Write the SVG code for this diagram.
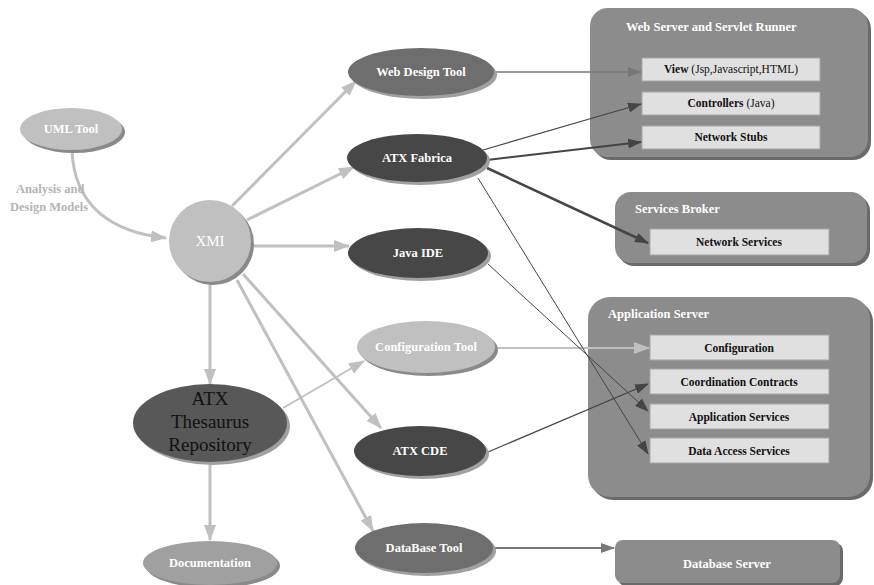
<svg xmlns="http://www.w3.org/2000/svg" width="874" height="585" viewBox="0 0 874 585">
<style>
text{font-family:"Liberation Serif",Tinos,"Times New Roman","DejaVu Serif",serif;font-weight:bold}
text.n{font-weight:normal}
.w{fill:#ffffff}
.b{fill:#111111}
.t{font-size:12.5px}
.s{font-size:11.5px}
.box{fill:#e0e0e0;stroke:#a6a6a6;stroke-width:1}
.cont{fill:#8c8c8c}
.cshadow{fill:#6a6a6a}
.lite{stroke:#c0c0c0;stroke-width:3;fill:none}
.lite2{stroke:#c0c0c0;stroke-width:2;fill:none}
.dark{stroke:#454545;fill:none}
.mid{stroke:#777777;fill:none}
</style>
<defs>
<marker id="aL" markerUnits="userSpaceOnUse" markerWidth="16" markerHeight="12" refX="15" refY="6" orient="auto"><path d="M0,0 L16,6 L0,12 z" fill="#c0c0c0"/></marker>
<marker id="aD" markerUnits="userSpaceOnUse" markerWidth="14" markerHeight="10" refX="13" refY="5" orient="auto"><path d="M0,0 L14,5 L0,10 z" fill="#454545"/></marker>
<marker id="aM" markerUnits="userSpaceOnUse" markerWidth="14" markerHeight="10" refX="13" refY="5" orient="auto"><path d="M0,0 L14,5 L0,10 z" fill="#777777"/></marker>
</defs>

<g id="web-server">
<rect class="cshadow" x="593" y="11" width="278" height="149" rx="18"/>
<rect class="cont" x="590" y="8" width="278" height="149" rx="18"/>
<text class="w t" x="626" y="31">Web Server and Servlet Runner</text>
<rect class="box" x="642" y="58" width="178" height="23"/>
<text class="b s" x="731" y="73" text-anchor="middle">View <tspan font-weight="normal">(Jsp,Javascript,HTML)</tspan></text>
<rect class="box" x="642" y="92" width="178" height="23"/>
<text class="b s" x="731" y="107" text-anchor="middle">Controllers <tspan font-weight="normal">(Java)</tspan></text>
<rect class="box" x="642" y="126" width="178" height="23"/>
<text class="b s" x="731" y="141" text-anchor="middle">Network Stubs</text>
</g>

<g id="services-broker">
<rect class="cshadow" x="618" y="195" width="252" height="71" rx="16"/>
<rect class="cont" x="615" y="192" width="252" height="71" rx="16"/>
<text class="w t" x="635" y="213">Services Broker</text>
<rect class="box" x="650" y="229" width="179" height="26"/>
<text class="b s" x="739" y="246" text-anchor="middle">Network Services</text>
</g>

<g id="application-server">
<rect class="cshadow" x="591" y="300" width="282" height="200" rx="22"/>
<rect class="cont" x="588" y="297" width="282" height="200" rx="22"/>
<text class="w t" x="608" y="318">Application Server</text>
<rect class="box" x="650" y="335" width="179" height="25"/>
<text class="b s" x="739" y="352" text-anchor="middle">Configuration</text>
<rect class="box" x="650" y="369" width="179" height="25"/>
<text class="b s" x="739" y="386" text-anchor="middle">Coordination Contracts</text>
<rect class="box" x="650" y="404" width="179" height="25"/>
<text class="b s" x="739" y="421" text-anchor="middle">Application Services</text>
<rect class="box" x="650" y="438" width="179" height="25"/>
<text class="b s" x="739" y="455" text-anchor="middle">Data Access Services</text>
</g>

<g id="database-server">
<rect class="cshadow" x="618" y="543" width="225" height="43" rx="8"/>
<rect class="cont" x="615" y="540" width="225" height="43" rx="8"/>
<text class="w t" x="727" y="568" text-anchor="middle">Database Server</text>
</g>

<g id="connectors">
<path class="lite" d="M72,150 C74,205 110,232 166,238" marker-end="url(#aL)"/>
<line class="lite" x1="232" y1="206" x2="356" y2="81" marker-end="url(#aL)"/>
<line class="lite" x1="247" y1="220" x2="354" y2="167" marker-end="url(#aL)"/>
<line class="lite" x1="253" y1="246" x2="349" y2="246" marker-end="url(#aL)"/>
<line class="lite" x1="210" y1="283" x2="210" y2="384" marker-end="url(#aL)"/>
<line class="lite" x1="243" y1="274" x2="381" y2="428" marker-end="url(#aL)"/>
<line class="lite" x1="237" y1="280" x2="373" y2="531" marker-end="url(#aL)"/>
<line class="lite" x1="210" y1="463" x2="210" y2="540" marker-end="url(#aL)"/>
<line class="lite2" x1="283" y1="408" x2="364" y2="361" marker-end="url(#aL)"/>
<line class="lite2" x1="496" y1="348" x2="649" y2="348" marker-end="url(#aL)"/>
<line class="mid" stroke-width="1.5" x1="495" y1="72" x2="641" y2="72" marker-end="url(#aM)"/>
<line class="dark" stroke-width="1.2" x1="483" y1="150" x2="641" y2="104" marker-end="url(#aD)"/>
<line class="dark" stroke-width="2" x1="487" y1="160" x2="641" y2="142" marker-end="url(#aD)"/>
<line class="dark" stroke-width="2.5" x1="487" y1="168" x2="648" y2="243" marker-end="url(#aD)"/>
<line class="dark" stroke-width="1" x1="478" y1="178" x2="648" y2="454" marker-end="url(#aD)"/>
<line class="dark" stroke-width="1" x1="488" y1="264" x2="648" y2="411" marker-end="url(#aD)"/>
<line class="dark" stroke-width="1.2" x1="488" y1="452" x2="648" y2="384" marker-end="url(#aD)"/>
<line class="mid" stroke-width="2" x1="495" y1="548" x2="614" y2="548" marker-end="url(#aM)"/>
<text x="16" y="193" font-size="12.5" fill="#b4b4b4">Analysis and</text>
<text x="10" y="211" font-size="12.5" fill="#b4b4b4">Design Models</text>
</g>

<g id="uml-tool">
<ellipse cx="74" cy="132" rx="51" ry="21" fill="#8a8a8a"/>
<ellipse cx="71" cy="129" rx="51" ry="21" fill="#c0c0c0"/>
<text class="w t" x="71" y="133" text-anchor="middle">UML Tool</text>
</g>

<g id="xmi">
<circle cx="213" cy="244" r="41" fill="#8a8a8a"/>
<circle cx="210" cy="241" r="41" fill="#c0c0c0"/>
<text class="w n" font-size="15" x="210" y="246" text-anchor="middle">XMI</text>
</g>

<g id="web-design-tool">
<ellipse cx="424" cy="75" rx="73" ry="24" fill="#a0a0a0"/>
<ellipse cx="421" cy="72" rx="73" ry="24" fill="#6e6e6e"/>
<text class="w t" x="421" y="76" text-anchor="middle">Web Design Tool</text>
</g>

<g id="atx-fabrica">
<ellipse cx="420" cy="161" rx="70" ry="24" fill="#a0a0a0"/>
<ellipse cx="417" cy="158" rx="70" ry="24" fill="#474747"/>
<text class="w t" x="417" y="162" text-anchor="middle">ATX Fabrica</text>
</g>

<g id="java-ide">
<ellipse cx="421" cy="256" rx="70" ry="25" fill="#a0a0a0"/>
<ellipse cx="418" cy="253" rx="70" ry="25" fill="#474747"/>
<text class="w t" x="418" y="257" text-anchor="middle">Java IDE</text>
</g>

<g id="configuration-tool">
<ellipse cx="429" cy="350" rx="69" ry="26" fill="#8a8a8a"/>
<ellipse cx="426" cy="347" rx="69" ry="26" fill="#c0c0c0"/>
<text class="w t" x="426" y="351" text-anchor="middle">Configuration Tool</text>
</g>

<g id="atx-cde">
<ellipse cx="423" cy="454" rx="66" ry="25" fill="#a0a0a0"/>
<ellipse cx="420" cy="451" rx="66" ry="25" fill="#474747"/>
<text class="w t" x="420" y="455" text-anchor="middle">ATX CDE</text>
</g>

<g id="database-tool">
<ellipse cx="427" cy="551" rx="69" ry="25" fill="#a0a0a0"/>
<ellipse cx="424" cy="548" rx="69" ry="25" fill="#6e6e6e"/>
<text class="w t" x="424" y="552" text-anchor="middle">DataBase Tool</text>
</g>

<g id="atx-thesaurus">
<ellipse cx="213" cy="426" rx="77" ry="39" fill="#a0a0a0"/>
<ellipse cx="210" cy="423" rx="77" ry="39" fill="#585858"/>
<text class="b n" font-size="19" x="210" y="405" text-anchor="middle">ATX</text>
<text class="b n" font-size="19" x="210" y="428" text-anchor="middle">Thesaurus</text>
<text class="b n" font-size="19" x="210" y="451" text-anchor="middle">Repository</text>
</g>

<g id="documentation">
<ellipse cx="213" cy="566" rx="67" ry="22" fill="#8a8a8a"/>
<ellipse cx="210" cy="563" rx="67" ry="22" fill="#a0a0a0"/>
<text class="w t" x="210" y="567" text-anchor="middle">Documentation</text>
</g>
</svg>
